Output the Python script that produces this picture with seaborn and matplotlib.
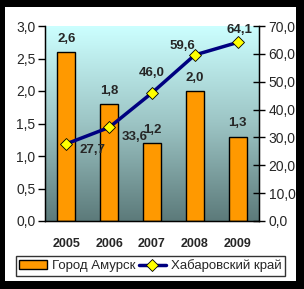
import numpy as np
import pandas as pd
import matplotlib
matplotlib.use("Agg")
import matplotlib.pyplot as plt
import seaborn as sns
from matplotlib.patches import Rectangle, Patch
from matplotlib.lines import Line2D
from matplotlib.colors import LinearSegmentedColormap

years = ["2005", "2006", "2007", "2008", "2009"]
amursk = [2.6, 1.8, 1.2, 2.0, 1.3]
khab = [27.7, 33.6, 46.0, 59.6, 64.1]
left_ticks = [0.0, 0.5, 1.0, 1.5, 2.0, 2.5, 3.0]
right_ticks = [0, 10, 20, 30, 40, 50, 60, 70]
series_names = ["Город Амурск", "Хабаровский край"]

sns.set_style("white")
plt.rcParams["font.family"] = ["Liberation Sans", "DejaVu Sans"]

W, H = 304, 289
fig = plt.figure(figsize=(W / 100, H / 100), dpi=100, facecolor="black")
fig.patches.append(Rectangle((5 / W, 1 - 281 / H), 291 / W, 274 / H,
                             transform=fig.transFigure, facecolor="white",
                             edgecolor="none", zorder=-10))

ax = fig.add_axes([45 / W, 1 - 221 / H, 214 / W, 195 / H])
ax.set_facecolor("none")

df = pd.DataFrame({"year": years, "amursk": amursk, "khab": khab})

# gradient background
cmap = LinearSegmentedColormap.from_list("g", ["#5c7a7a", "#9cc4c4", "#ccffff"])
grad = np.linspace(0, 1, 256).reshape(-1, 1)
ax.imshow(grad, cmap=cmap, origin="lower", aspect="auto",
          extent=[-0.5, 4.5, 0, 3.0], zorder=0)

sns.barplot(data=df, x="year", y="amursk", ax=ax, color="#ff9900",
            edgecolor="black", linewidth=1, width=0.42, saturation=1, zorder=2)
ax.set_xlim(-0.5, 4.5)
ax.set_ylim(0, 3.0)
ax.set_yticks(left_ticks)
ax.set_yticklabels([f"{v:.1f}".replace(".", ",") for v in left_ticks], fontsize=10)
ax.set_xticks(range(len(years)))
ax.set_xticklabels(years, fontsize=9, fontweight="bold")
ax.set_xlabel("")
ax.set_ylabel("")
ax.set_xticks(np.arange(-0.5, 5.0, 1.0), minor=True)
ax.tick_params(axis="x", which="major", length=0, pad=12)
ax.tick_params(axis="x", which="minor", length=4, direction="inout", width=1, color="black")
ax.tick_params(axis="y", length=5, direction="out", width=1, color="black", pad=2)
for s in ["top"]:
    ax.spines[s].set_visible(False)
for s in ["left", "bottom", "right"]:
    ax.spines[s].set_color("black")
    ax.spines[s].set_linewidth(1)

for i, v in enumerate(amursk):
    ax.annotate(f"{v:.1f}".replace(".", ","), (i, v), xytext=(0, 13),
                textcoords="offset pixels", ha="center", va="center",
                fontsize=9.5, fontweight="bold", zorder=5)

ax2 = ax.twinx()
sns.pointplot(data=df, x="year", y="khab", ax=ax2, color="#000080",
              markers="D", linewidth=2.5, markersize=6)
for ln in ax2.lines:
    ln.set_markerfacecolor("#ffff00")
    ln.set_markeredgecolor("black")
    ln.set_markeredgewidth(0.6)
    ln.set_zorder(4)
ax2.set_xlim(-0.5, 4.5)
ax2.set_ylim(0, 70)
ax2.set_yticks(right_ticks)
ax2.set_yticklabels([f"{v:.1f}".replace(".", ",") for v in right_ticks], fontsize=10)
ax2.set_ylabel("")
ax2.set_xlabel("")
ax2.tick_params(axis="y", length=8, direction="inout", width=1, color="black", pad=3)
ax2.spines["top"].set_visible(False)
for s in ["left", "bottom", "right"]:
    ax2.spines[s].set_color("black")

offs = [(26, -6), (25, -10), (0, 20), (-12, 9), (2, 12)]
for i, (v, o) in enumerate(zip(khab, offs)):
    ax2.annotate(f"{v:.1f}".replace(".", ","), (i, v), xytext=o,
                 textcoords="offset pixels", ha="center", va="center",
                 fontsize=9.5, fontweight="bold", zorder=6)

handles = [Patch(facecolor="#ff9900", edgecolor="black", linewidth=1),
           Line2D([0], [0], color="#000080", lw=2.5, marker="D",
                  markerfacecolor="#ffff00", markeredgecolor="black",
                  markersize=6, markeredgewidth=0.6)]
leg = fig.legend(handles, series_names, loc="center",
                 bbox_to_anchor=(150.5 / W, 1 - 266 / H), ncol=2,
                 frameon=True, fancybox=False, fontsize=9.5,
                 handlelength=2.1, handletextpad=0.35, columnspacing=0.25,
                 borderpad=0.3, borderaxespad=0)
leg.get_frame().set_edgecolor("black")
leg.get_frame().set_linewidth(1)

fig.savefig("out.png", dpi=100, facecolor="black")
